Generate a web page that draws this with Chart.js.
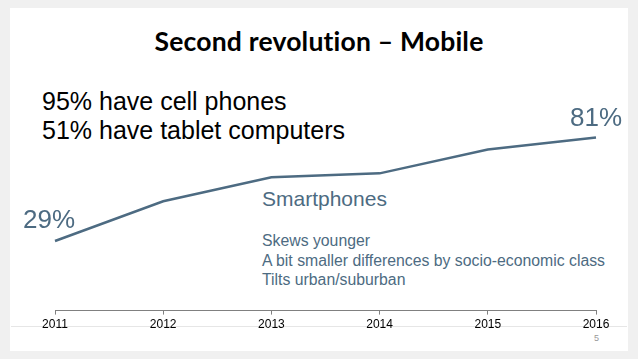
<!DOCTYPE html>
<html>
<head>
<meta charset="utf-8">
<script src="https://cdn.jsdelivr.net/npm/chart.js@4.4.1/dist/chart.umd.min.js"></script>
<style>
    html, body { margin: 0; padding: 0; }
    body { width: 638px; height: 359px; background: #f0f0f0; position: relative; overflow: hidden; }
    .slide { position: absolute; left: 10px; top: 8px; width: 618px; height: 343px; background: #fff; }
    .footline { position: absolute; left: 11px; top: 326px; width: 616px; height: 1px; background: #e6e6e6; }
    .txt { position: absolute; white-space: nowrap; font-family: "Liberation Sans", Arial, sans-serif; line-height: 1; }
    #title { left: 0; width: 638px; text-align: center; top: 28px; font-family: Lato, "Open Sans", sans-serif; font-weight: 700; font-size: 26.5px; letter-spacing: 0.2px; color: #000; }
    #stats { left: 42px; top: 87px; font-size: 25px; line-height: 29px; color: #000; }
    #series { left: 262px; top: 188px; font-size: 21px; color: #4d6b82; }
    #notes { left: 262px; top: 231px; font-size: 15.8px; line-height: 19.5px; color: #4d6b82; }
    #pagenum { left: 594px; top: 334px; font-size: 9px; color: #999; }
    canvas { position: absolute; left: 0; top: 0; }
</style>
</head>
<body>
<div class="slide"></div>
<div class="footline"></div>
<div class="txt" id="title">Second revolution – Mobile</div>
<div class="txt" id="stats">95% have cell phones<br>51% have tablet computers</div>
<div class="txt" id="series">Smartphones</div>
<div class="txt" id="notes">Skews younger<br>A bit smaller differences by socio-economic class<br>Tilts urban/suburban</div>
<div class="txt" id="pagenum">5</div>
<canvas id="chart" width="638" height="359"></canvas>
<script>
// smartphone ownership, % of adults
var years = ['2011', '2012', '2013', '2014', '2015', '2016'];
var smartphones = [29, 49, 61, 63, 75, 81];

var lineColor = '#4d6b82';

// label the first and last point of the series
var endLabels = {
    id: 'endLabels',
    afterDatasetsDraw: function (chart) {
        var ctx = chart.ctx;
        var points = chart.getDatasetMeta(0).data;
        var first = points[0];
        var last = points[points.length - 1];
        ctx.save();
        ctx.font = '26px "Liberation Sans", Arial, sans-serif';
        ctx.fillStyle = lineColor;
        ctx.textAlign = 'center';
        ctx.textBaseline = 'alphabetic';
        ctx.fillText(smartphones[0] + '%', first.x - 6, first.y - 13);
        ctx.fillText(smartphones[smartphones.length - 1] + '%', last.x, last.y - 12);
        ctx.restore();
    },
};

new Chart(document.getElementById('chart').getContext('2d'), {
    type: 'line',
    data: {
        labels: years,
        datasets: [{
            data: smartphones,
            borderColor: lineColor,
            borderWidth: 2.5,
            pointRadius: 0,
            tension: 0,
            fill: false,
        }],
    },
    options: {
        responsive: false,
        animation: false,
        devicePixelRatio: 1,
        layout: {
            padding: {left: 55, right: 42, top: 60, bottom: 24},
        },
        plugins: {
            legend: {display: false},
            tooltip: {enabled: false},
        },
        scales: {
            y: {
                display: false,
                min: -6,
                max: 120,
            },
            x: {
                offset: false,
                grid: {
                    drawOnChartArea: false,
                    drawTicks: true,
                    tickLength: 4,
                    color: '#808080',
                },
                border: {display: true, color: '#808080', width: 1},
                ticks: {
                    color: '#000',
                    padding: 3,
                    maxRotation: 0,
                    autoSkip: false,
                    font: {family: '"Liberation Sans", Arial, sans-serif', size: 12},
                },
            },
        },
    },
    plugins: [endLabels],
});
</script>
</body>
</html>
